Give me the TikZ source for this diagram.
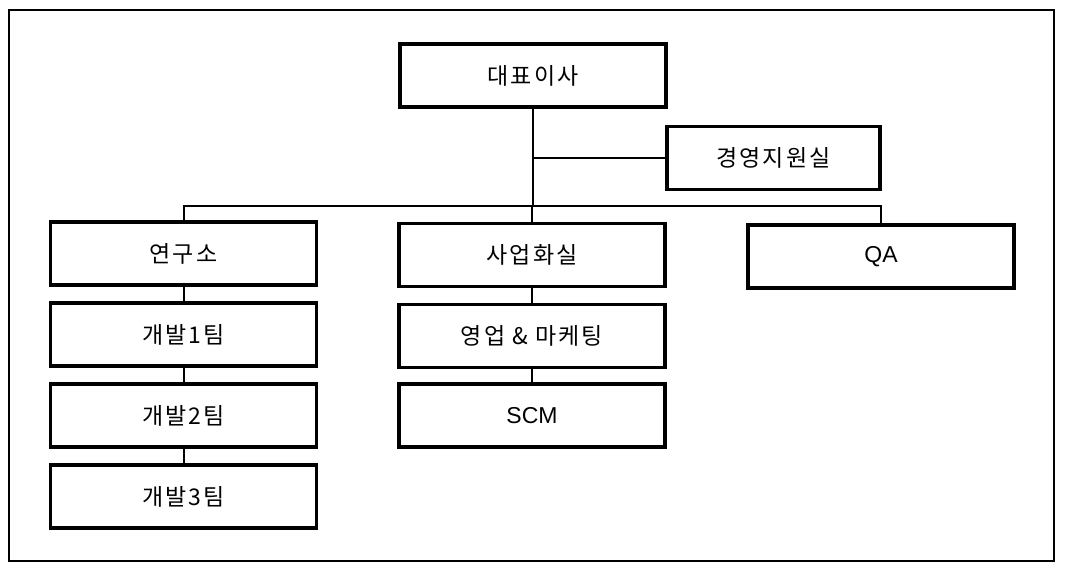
\documentclass[tikz,border=0pt]{standalone}
\usepackage{fontspec}
\setmainfont[LetterSpace=9]{Noto Sans CJK KR}
\newfontfamily\latinfont{Liberation Sans}
\usetikzlibrary{positioning}
\tikzset{
  unitbox/.style={draw, line width=3.5pt, minimum width=266pt, minimum height=63pt,
    inner sep=0pt, font=\fontsize{23}{27}\selectfont},
  link/.style={line width=2pt}
}
\begin{document}
\begin{tikzpicture}[x=1pt,y=-1pt]
\useasboundingbox (0,0) rectangle (1066,580);
\draw[line width=2pt] (9,10) rectangle (1054,561);
\node[unitbox] (ceo) at (533,75.5) {대표이사};
\node[unitbox, minimum width=213pt] (support) at (773.5,158) {경영지원실};
\node[unitbox] (lab) at (183.5,253.5) {연구소};
\foreach \i in {1,2,3}
{
\node[unitbox] (dev\i) at (183.5,{253.5+81*\i}) {개발{\i}팀};
}
\node[unitbox] (biz) at (532,255) {사업화실};
\node[unitbox] (sales) at (532,336) {영업 \& 마케팅};
\node[unitbox] (scm) at (532,415.5) {\latinfont SCM};
\node[unitbox] (qa) at (881,256.5) {\latinfont QA};
\coordinate (bus) at (533,206);
% top level
\draw[link] (ceo.south) -- (ceo.south |- bus);
\draw[link] (ceo.south |- support.west) -- (support.west);
\draw[link] (lab.north) |- (qa.north |- bus) -- (qa.north);
\draw[link] (biz.north) -- (biz.north |- bus);
% stacks
\draw[link] (lab) -- (dev1);
\draw[link] (dev1) -- (dev2);
\draw[link] (dev2) -- (dev3);
\draw[link] (biz) -- (sales);
\draw[link] (sales) -- (scm);
\end{tikzpicture}
\end{document}
